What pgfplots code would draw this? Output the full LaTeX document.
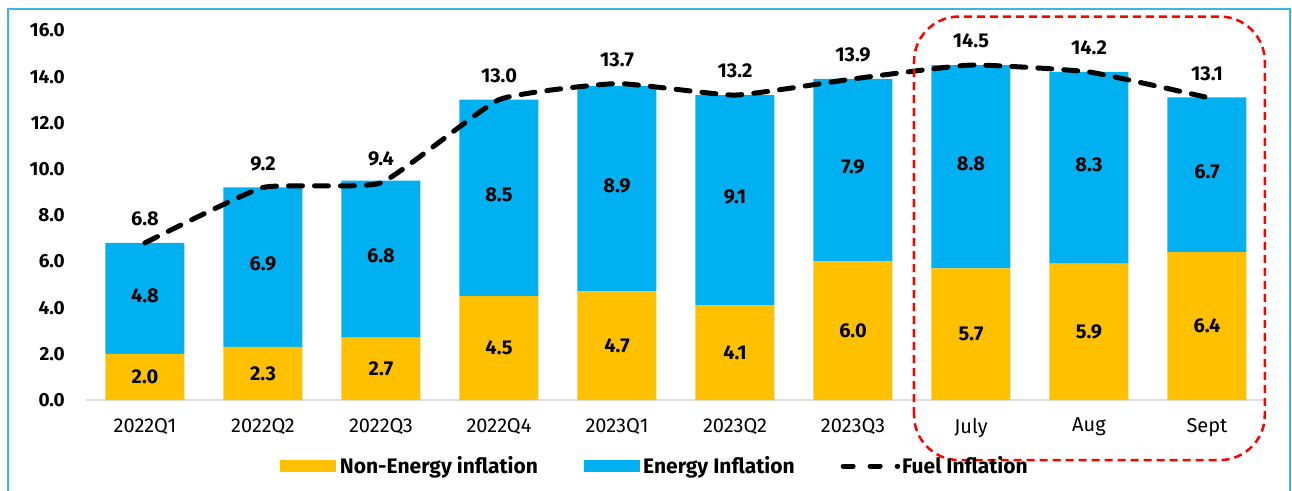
\documentclass[border=0pt]{standalone}
\usepackage{pgfplots}
\pgfplotsset{compat=1.18}
\usepackage{pgfplotstable}
\usepackage{fontspec}
\setmainfont{Fira Sans}
\usetikzlibrary{calc}
\definecolor{neY}{HTML}{FFC000}
\definecolor{enB}{HTML}{00B0F0}
\definecolor{frameB}{HTML}{3CB4E5}
\pgfplotstableread{
x ne en fuel
0 2.0 4.8 6.8
1 2.3 6.9 9.2
2 2.7 6.8 9.4
3 4.5 8.5 13.0
4 4.7 8.9 13.7
5 4.1 9.1 13.2
6 6.0 7.9 13.9
7 5.7 8.8 14.5
8 5.9 8.3 14.2
9 6.4 6.7 13.1
}\data
\pgfplotsset{/pgf/number format/assume math mode=true}
\newcommand{\lblfont}{\bfseries\fontsize{19bp}{22bp}\selectfont}
\newcommand{\vfont}{\bfseries\fontsize{20bp}{23bp}\selectfont}
\begin{document}
\begin{tikzpicture}
\begin{axis}[name=ax, scale only axis, width=1180bp, height=369.6bp,
 xmin=-0.5, xmax=9.5, ymin=0, ymax=16,
 ybar stacked, bar width=79bp,
 axis x line*=bottom, axis y line*=left,
 x axis line style={draw=black!13, line width=2bp, -},
 y axis line style={draw=none, -},
 xtick={0,...,9},
 xticklabels={2022Q1,2022Q2,2022Q3,2022Q4,2023Q1,2023Q2,2023Q3,July,Aug,Sept},
 ytick={0,2,...,16},
 major tick length=0pt, tick style={draw=none},
 yticklabel style={/pgf/number format/.cd, fixed, fixed zerofill, precision=1, /tikz/.cd,
   font=\lblfont, inner sep=0pt, anchor=east, xshift=-21bp},
 xticklabel style={font=\fontsize{20bp}{23bp}\selectfont, inner sep=0pt, anchor=north, yshift=-18bp},
 clip=false,
]
\addplot[fill=neY, draw=none] table[x=x,y=ne]{\data};
\addplot[fill=enB, draw=none] table[x=x,y=en]{\data};
\end{axis}
\begin{axis}[at={(ax.south west)}, anchor=south west, scale only axis, width=1180bp, height=369.6bp,
 xmin=-0.5, xmax=9.5, ymin=0, ymax=16, axis lines=none, clip=false,
 legend style={at={(0.482,-0.1786)}, anchor=center, draw=none, fill=none,
   font=\bfseries\fontsize{21bp}{24bp}\selectfont, nodes={inner sep=2bp},
   /tikz/every even column/.append style={column sep=44bp}},
 legend columns=3, legend cell align=left]
\addlegendimage{legend image code/.code={\fill[neY] (0bp,-5.5bp) rectangle (55bp,5.5bp); \path[draw=none,fill=none] (0bp,0bp) -- (58bp,0bp);}}
\addlegendentry{Non-Energy inflation}
\addlegendimage{legend image code/.code={\fill[enB] (0bp,-5.5bp) rectangle (55bp,5.5bp); \path[draw=none,fill=none] (0bp,0bp) -- (57bp,0bp);}}
\addlegendentry{Energy Inflation}
\addlegendimage{legend image code/.code={\draw[black, line width=5bp, line cap=round, dash pattern=on 10bp off 17bp] (2.5bp,0bp) -- (57bp,0bp);}}
\addlegendentry{Fuel Inflation}
\addplot[forget plot, black, line width=5bp, line cap=round, dash pattern=on 14bp off 12bp,
  smooth, tension=0.25, mark=none,
  nodes near coords={\pgfmathprintnumber[fixed,fixed zerofill,precision=1]{\pgfplotspointmeta}},
  every node near coord/.append style={font=\vfont, anchor=center, yshift=24bp, solid}]
  table[x=x,y=fuel]{\data};
\addplot[forget plot, draw=none, mark=none, point meta=explicit,
  nodes near coords={\pgfmathprintnumber[fixed,fixed zerofill,precision=1]{\pgfplotspointmeta}},
  every node near coord/.append style={font=\vfont, anchor=center}]
  table[x=x, y expr=\thisrow{ne}/2, meta=ne]{\data};
\addplot[forget plot, draw=none, mark=none, point meta=explicit,
  nodes near coords={\pgfmathprintnumber[fixed,fixed zerofill,precision=1]{\pgfplotspointmeta}},
  every node near coord/.append style={font=\vfont, anchor=center, yshift=3bp}]
  table[x=x, y expr=\thisrow{ne}+\thisrow{en}/2, meta=en]{\data};
\draw[red, line width=2.5bp, dash pattern=on 8bp off 5bp, rounded corners=45bp]
  (axis cs:6.517,-2.6) rectangle (axis cs:9.49,16.6);
\end{axis}
\draw[frameB, line width=2bp] ($(ax.south west)+(-78bp,-110bp)$) -- ($(ax.south west)+(-78bp,391bp)$)
  -- ($(ax.south west)+(1204bp,391bp)$) -- ($(ax.south west)+(1204bp,-110bp)$);
\pgfresetboundingbox
\path[use as bounding box] ($(ax.south west)+(-86bp,-91bp)$) rectangle ($(ax.south west)+(1206bp,400bp)$);
\end{tikzpicture}
\end{document}
